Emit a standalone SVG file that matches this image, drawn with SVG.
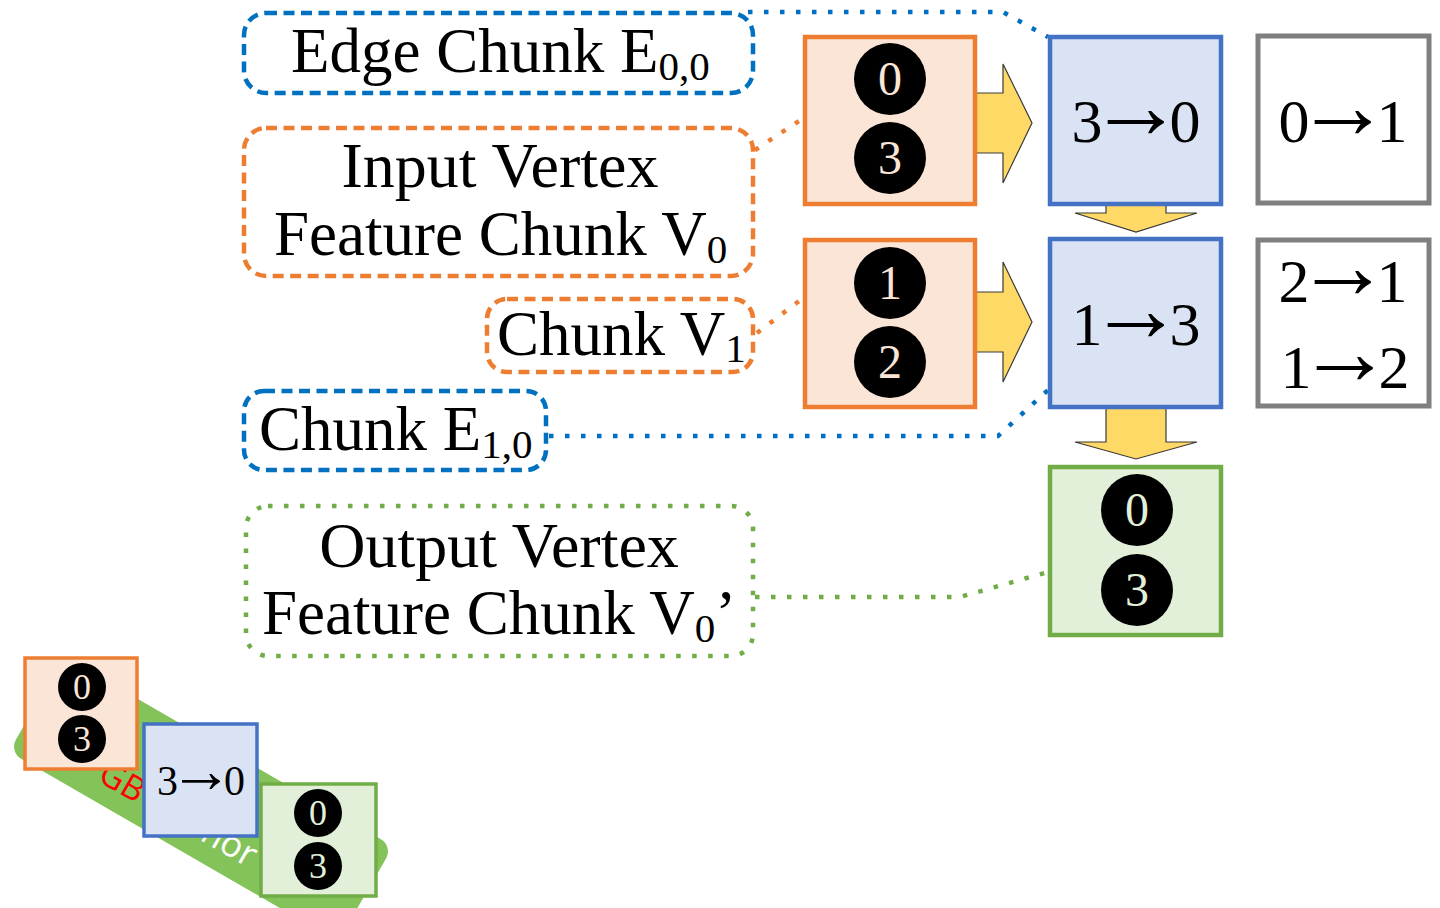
<svg xmlns="http://www.w3.org/2000/svg" width="1440" height="908" viewBox="0 0 1440 908">
  <style>
    .serif { font-family: "Liberation Serif", "Times New Roman", serif; }
    .lbl { font-size: 63px; fill: #000; }
    .big { font-size: 64px; }
    .sub { font-size: 41px; }
    .edge { font-size: 62px; fill: #000; text-anchor: middle; }
    .arr { font-size: 95px; }
    .num { font-family: "Liberation Serif", "Times New Roman", serif; font-size: 48px; text-anchor: middle; }
    .snum { font-family: "Liberation Serif", "Times New Roman", serif; font-size: 36px; text-anchor: middle; }
    .dash-blue { fill: #fff; stroke: #0070C0; stroke-width: 4.5; stroke-dasharray: 11 6.5; }
    .dash-orange { fill: #fff; stroke: #ED7D31; stroke-width: 4.5; stroke-dasharray: 11 6.5; }
    .dot-green { fill: #fff; stroke: #70AD47; stroke-width: 4.5; stroke-dasharray: 4.5 11.5; }
    .vin { fill: #FBE5D6; stroke: #ED7D31; stroke-width: 4.5; }
    .edges { fill: #DAE3F3; stroke: #4472C4; stroke-width: 4.5; }
    .vout { fill: #E2F0D9; stroke: #70AD47; stroke-width: 4.5; }
    .other { fill: #fff; stroke: #7F7F7F; stroke-width: 5; }
    .flow { fill: #FFD966; stroke: #3a3a3a; stroke-width: 1.2; stroke-linejoin: miter; }
    .link { fill: none; stroke-width: 4.5; stroke-dasharray: 4.5 11.5; }
  </style>

  <!-- small legend tiles in the lower-left corner -->
  <g id="legend">
    <g transform="translate(201 799) rotate(30)">
      <rect x="-190" y="-55" width="380" height="110" rx="14" fill="#83C35A"/>
      <text x="-100" y="36" font-family="'Open Sans', 'Liberation Sans', sans-serif" font-size="34" fill="#FF0000">GB</text>
      <text x="6" y="36" font-family="'Open Sans', 'Liberation Sans', sans-serif" font-size="36" fill="#fff">mor</text>
    </g>
    <g id="legend-vin">
      <rect x="25" y="658" width="112" height="111" fill="#FBE5D6" stroke="#ED7D31" stroke-width="3.5"/>
      <circle cx="82" cy="687" r="24"/>
      <circle cx="82" cy="739" r="24"/>
      <text class="snum" x="82" y="699" fill="#FBE5D6">0</text>
      <text class="snum" x="82" y="751" fill="#FBE5D6">3</text>
    </g>
    <g id="legend-edge">
      <rect x="144" y="724" width="113" height="112" fill="#DAE3F3" stroke="#4472C4" stroke-width="3.5"/>
      <text class="serif" x="201" y="795" font-size="42" text-anchor="middle">3<tspan font-size="64" dx="-9" dy="-3">→</tspan><tspan dx="-9" dy="3">0</tspan></text>
    </g>
    <g id="legend-vout">
      <rect x="261" y="784" width="115" height="112" fill="#E2F0D9" stroke="#70AD47" stroke-width="3.5"/>
      <circle cx="318" cy="813" r="24"/>
      <circle cx="318" cy="866" r="24"/>
      <text class="snum" x="318" y="825" fill="#E2F0D9">0</text>
      <text class="snum" x="318" y="878" fill="#E2F0D9">3</text>
    </g>
  </g>

  <!-- dotted leader lines from labels to chunks -->
  <g id="connectors">
    <path class="link" stroke="#0070C0" d="M 748 12 L 1003 12 L 1048 37"/>
    <path class="link" stroke="#ED7D31" d="M 755 150 L 802 119"/>
    <path class="link" stroke="#ED7D31" d="M 757 333 L 803 298"/>
    <path class="link" stroke="#0070C0" d="M 549 436 L 998 436 L 1048 390"/>
    <path class="link" stroke="#70AD47" d="M 755 597 L 960 597 L 1048 572"/>
  </g>

  <!-- block arrows showing the processing flow -->
  <g id="flow-arrows">
    <polygon class="flow" points="968,93 1003,93 1003,64 1032,123 1003,183 1003,153 968,153"/>
    <polygon class="flow" points="968,292 1003,292 1003,262 1032,322 1003,382 1003,352 968,352"/>
    <polygon class="flow" points="1106,198 1166,198 1166,213 1197,213 1136,232 1075,213 1106,213"/>
    <polygon class="flow" points="1106,400 1166,400 1166,442 1197,442 1136,459 1075,442 1106,442"/>
  </g>

  <!-- text labels -->
  <g id="label-e00">
    <rect class="dash-blue" x="244" y="13" width="509" height="80" rx="22"/>
    <text class="serif lbl" x="291" y="72">Edge Chunk E<tspan class="sub" dy="8">0,0</tspan></text>
  </g>
  <g id="label-v0">
    <rect class="dash-orange" x="244" y="128" width="509" height="148" rx="22"/>
    <text class="serif lbl big" x="500" y="187" text-anchor="middle">Input Vertex</text>
    <text class="serif lbl" x="274" y="255">Feature Chunk V<tspan class="sub" dy="8">0</tspan></text>
  </g>
  <g id="label-v1">
    <rect class="dash-orange" x="487" y="299" width="266" height="73" rx="20"/>
    <text class="serif lbl" x="497" y="355">Chunk V<tspan class="sub" dy="7">1</tspan></text>
  </g>
  <g id="label-e10">
    <rect class="dash-blue" x="244" y="391" width="302" height="79" rx="20"/>
    <text class="serif lbl" x="259" y="450">Chunk E<tspan class="sub" dy="8">1,0</tspan></text>
  </g>
  <g id="label-v0out">
    <rect class="dot-green" x="246" y="506" width="507" height="150" rx="22"/>
    <text class="serif lbl big" x="499" y="567" text-anchor="middle">Output Vertex</text>
    <text class="serif lbl" x="262" y="634">Feature Chunk V<tspan class="sub" dy="8">0</tspan><tspan dy="-8">’</tspan></text>
  </g>

  <!-- input vertex feature chunks -->
  <g id="chunk-v0">
    <rect class="vin" x="805" y="37" width="170" height="167"/>
    <circle cx="890" cy="79" r="36"/>
    <circle cx="890" cy="158" r="36"/>
    <text class="num" x="890" y="95" fill="#FBE5D6">0</text>
    <text class="num" x="890" y="174" fill="#FBE5D6">3</text>
  </g>
  <g id="chunk-v1">
    <rect class="vin" x="805" y="240" width="170" height="167"/>
    <circle cx="890" cy="283" r="36"/>
    <circle cx="890" cy="362" r="36"/>
    <text class="num" x="890" y="299" fill="#FBE5D6">1</text>
    <text class="num" x="890" y="378" fill="#FBE5D6">2</text>
  </g>

  <!-- edge chunks being processed -->
  <g id="chunk-e00">
    <rect class="edges" x="1050" y="37" width="171" height="167"/>
    <text class="serif edge" x="1136" y="142">3<tspan class="arr" dx="-14" dy="-4">→</tspan><tspan dx="-14" dy="4">0</tspan></text>
  </g>
  <g id="chunk-e10">
    <rect class="edges" x="1050" y="239" width="171" height="168"/>
    <text class="serif edge" x="1136" y="345">1<tspan class="arr" dx="-14" dy="-4">→</tspan><tspan dx="-14" dy="4">3</tspan></text>
  </g>

  <!-- output vertex feature chunk -->
  <g id="chunk-v0out">
    <rect class="vout" x="1050" y="467" width="171" height="168"/>
    <circle cx="1137" cy="510" r="36"/>
    <circle cx="1137" cy="590" r="36"/>
    <text class="num" x="1137" y="526" fill="#E2F0D9">0</text>
    <text class="num" x="1137" y="606" fill="#E2F0D9">3</text>
  </g>

  <!-- remaining edge chunks -->
  <g id="chunk-e01">
    <rect class="other" x="1258" y="36" width="171" height="167"/>
    <text class="serif edge" x="1343" y="142">0<tspan class="arr" dx="-14" dy="-4">→</tspan><tspan dx="-14" dy="4">1</tspan></text>
  </g>
  <g id="chunk-e11">
    <rect class="other" x="1258" y="240" width="171" height="166"/>
    <text class="serif edge" x="1343" y="302">2<tspan class="arr" dx="-14" dy="-4">→</tspan><tspan dx="-14" dy="4">1</tspan></text>
    <text class="serif edge" x="1345" y="388">1<tspan class="arr" dx="-14" dy="-4">→</tspan><tspan dx="-14" dy="4">2</tspan></text>
  </g>
</svg>
